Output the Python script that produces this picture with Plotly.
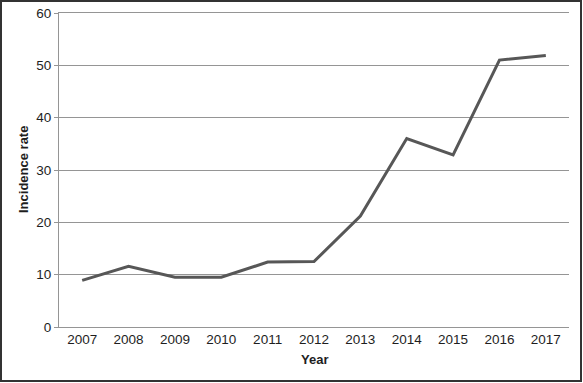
import plotly.graph_objects as go

years = ["2007", "2008", "2009", "2010", "2011", "2012", "2013", "2014", "2015", "2016", "2017"]
incidence = [8.9, 11.6, 9.5, 9.5, 12.4, 12.5, 21.2, 36.0, 32.9, 51.0, 51.9]
y_ticks = [0, 10, 20, 30, 40, 50, 60]

W, H = 583, 383
L, R, T, B = 59, 14, 13, 56
pw, ph = W - L - R, H - T - B

fig = go.Figure()
fig.add_trace(go.Scatter(x=years, y=incidence, mode="lines",
                         line=dict(color="#575757", width=3), hoverinfo="skip"))

font = dict(family="Liberation Sans, Arial, sans-serif", size=13.5, color="#1e1e1e")
grid = "#959595"

fig.update_layout(
    template="none",
    width=W, height=H,
    margin=dict(l=L, r=R, t=T, b=B, autoexpand=False),
    paper_bgcolor="white", plot_bgcolor="white",
    showlegend=False,
    font=font,
    xaxis=dict(type="category", range=[-0.5, 10.5], showgrid=False,
               showline=True, mirror=True, linecolor=grid, linewidth=1,
               ticks="", tickfont=font, zeroline=False,
               fixedrange=True, automargin=False),
    yaxis=dict(range=[0, 60], tickvals=y_ticks, showgrid=True,
               gridcolor=grid, gridwidth=1, showline=True,
               linecolor=grid, linewidth=1, ticks="outside",
               ticklen=4, tickcolor=grid, tickfont=font,
               zeroline=False, fixedrange=True, automargin=False),
    annotations=[
        dict(text="<b>Incidence rate</b>", xref="paper", yref="paper",
             x=(23 - L) / pw, y=(H - B - 170) / ph, textangle=-90,
             showarrow=False, font=dict(family=font["family"], size=13, color="#1e1e1e"),
             xanchor="center", yanchor="middle"),
        dict(text="<b>Year</b>", xref="paper", yref="paper",
             x=0.5, y=(H - B - 359) / ph, showarrow=False,
             font=dict(family=font["family"], size=13, color="#1e1e1e"),
             xanchor="center", yanchor="middle"),
    ],
    shapes=[
        dict(type="rect", xref="paper", yref="paper",
             x0=(1 - L) / pw, x1=(581 - L) / pw,
             y0=(H - B - 381) / ph, y1=(H - B - 1) / ph,
             line=dict(color="#333333", width=2), fillcolor="rgba(0,0,0,0)", layer="below"),
    ],
)

fig.write_html("out.html", config={"displayModeBar": False, "staticPlot": True},
               post_script="document.body.style.margin='0';document.body.style.overflow='hidden';")
